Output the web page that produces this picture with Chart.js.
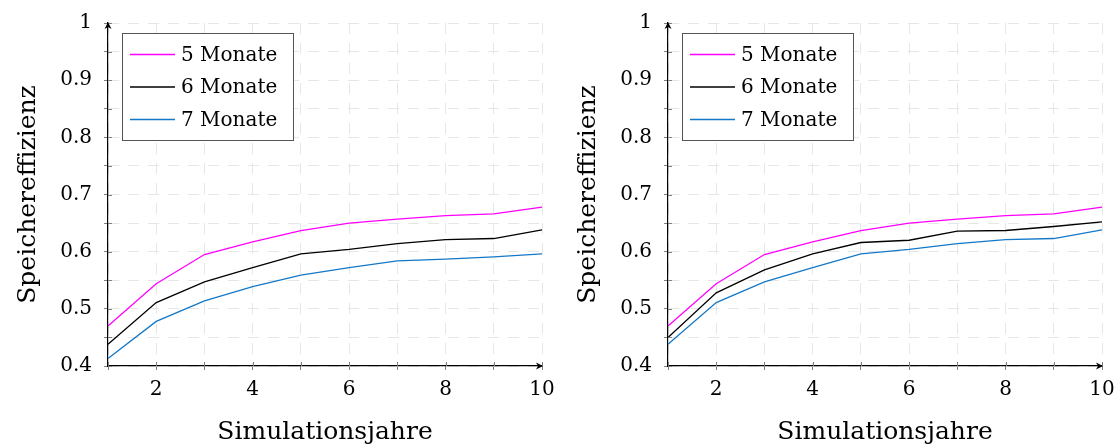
<!DOCTYPE html>
<html>
<head>
<meta charset="utf-8">
<script src="https://cdn.jsdelivr.net/npm/chart.js@4.4.0/dist/chart.umd.min.js"></script>
<style>
  body { margin: 0; background: #fff; }
  #wrap { position: relative; width: 1119px; height: 447px; }
  canvas { position: absolute; top: 0; }
</style>
</head>
<body>
<div id="wrap">
  <canvas id="left" width="560" height="447" style="left:0"></canvas>
  <canvas id="right" width="559" height="447" style="left:560px"></canvas>
</div>
<script>
// Simulationsjahre
var years = [1, 2, 3, 4, 5, 6, 7, 8, 9, 10];
var seriesLabels = ['5 Monate', '6 Monate', '7 Monate'];
var seriesColors = ['#ff00ff', '#000000', '#1478c8'];

// linke Grafik
var left5 = [0.470, 0.544, 0.595, 0.617, 0.637, 0.650, 0.657, 0.663, 0.666, 0.678];
var left6 = [0.438, 0.511, 0.547, 0.572, 0.596, 0.604, 0.614, 0.621, 0.623, 0.638];
var left7 = [0.413, 0.478, 0.514, 0.539, 0.559, 0.572, 0.584, 0.587, 0.591, 0.596];

// rechte Grafik
var right5 = [0.470, 0.544, 0.595, 0.617, 0.637, 0.650, 0.657, 0.663, 0.666, 0.678];
var right6 = [0.450, 0.528, 0.568, 0.596, 0.616, 0.620, 0.636, 0.637, 0.644, 0.652];
var right7 = [0.438, 0.511, 0.547, 0.572, 0.596, 0.604, 0.614, 0.621, 0.623, 0.638];

var yMin = 0.4, yMax = 1, yStep = 0.05;
var xTitle = 'Simulationsjahre';
var yTitle = 'Speichereffizienz';

var FONT = "'DejaVu Serif', serif";
var gridColor = '#e6e6e6';
var tickColor = '#808080';

// Legende im Diagramm + Achsenpfeile
var boxLegend = {
  id: 'boxLegend',
  afterDraw: function (chart) {
    var ctx = chart.ctx;
    var area = chart.chartArea;
    var xs = chart.scales.x, ys = chart.scales.y;

    // kurze Striche innen an den Achsen
    ctx.save();
    ctx.strokeStyle = tickColor;
    ctx.lineWidth = 1;
    ys.ticks.forEach(function (t) {
      var py = Math.round(ys.getPixelForValue(t.value)) + 0.5;
      ctx.beginPath(); ctx.moveTo(area.left, py); ctx.lineTo(area.left + 4, py); ctx.stroke();
    });
    xs.ticks.forEach(function (t, i) {
      var px = Math.round(xs.getPixelForTick(i)) + 0.5;
      ctx.beginPath(); ctx.moveTo(px, area.bottom); ctx.lineTo(px, area.bottom - 4); ctx.stroke();
    });
    ctx.restore();

    // Pfeile
    ctx.save();
    ctx.fillStyle = '#000';
    var ax = area.left, ay = area.top - 1;
    ctx.beginPath();
    ctx.moveTo(ax, ay);
    ctx.lineTo(ax - 3.5, ay + 7);
    ctx.lineTo(ax, ay + 5);
    ctx.lineTo(ax + 3.5, ay + 7);
    ctx.closePath();
    ctx.fill();
    var bx = area.right + 1, by = area.bottom;
    ctx.beginPath();
    ctx.moveTo(bx, by);
    ctx.lineTo(bx - 7, by - 3.5);
    ctx.lineTo(bx - 5, by);
    ctx.lineTo(bx - 7, by + 3.5);
    ctx.closePath();
    ctx.fill();
    ctx.restore();

    // Legende
    var lx = area.left + 14, ly = area.top + 10, lw = 171, lh = 107;
    ctx.save();
    ctx.fillStyle = '#fff';
    ctx.fillRect(lx, ly, lw, lh);
    ctx.strokeStyle = '#555';
    ctx.lineWidth = 1;
    ctx.strokeRect(lx + 0.5, ly + 0.5, lw, lh);
    ctx.font = '20px ' + FONT;
    ctx.textBaseline = 'middle';
    ctx.fillStyle = '#000';
    chart.data.datasets.forEach(function (ds, i) {
      var ry = ly + 21.5 + i * 32.5;
      ctx.strokeStyle = ds.borderColor;
      ctx.lineWidth = 1.3;
      ctx.beginPath(); ctx.moveTo(lx + 8, ry); ctx.lineTo(lx + 53, ry); ctx.stroke();
      ctx.fillText(ds.label, lx + 59, ry + 1);
    });
    ctx.restore();
  }
};

function makeChart(id, s5, s6, s7, width) {
  var vals = [s5, s6, s7];
  var ctx = document.getElementById(id).getContext('2d');
  return new Chart(ctx, {
    type: 'line',
    data: {
      labels: years,
      datasets: vals.map(function (v, i) {
        return {
          label: seriesLabels[i],
          data: v,
          borderColor: seriesColors[i],
          backgroundColor: seriesColors[i],
          borderWidth: 1.3,
          pointRadius: 0,
          tension: 0,
          fill: false
        };
      })
    },
    options: {
      responsive: false,
      animation: false,
      layout: { padding: { left: 0, right: width - 542, top: 23, bottom: 0 } },
      plugins: { legend: { display: false }, tooltip: { enabled: false } },
      scales: {
        x: {
          type: 'category',
          offset: false,
          afterFit: function (s) { s.height = 81; s.paddingLeft = 0; s.paddingRight = 0; },
          grid: { color: gridColor, tickColor: tickColor, tickLength: 4, lineWidth: 1 },
          border: { color: '#000', width: 1.2, dash: [11, 9] },
          ticks: {
            color: '#000',
            padding: 8,
            maxRotation: 0,
            autoSkip: false,
            font: { family: FONT, size: 20 },
            callback: function (v, i) { return years[i] % 2 === 0 ? String(years[i]) : ''; }
          },
          title: {
            display: true,
            text: xTitle,
            color: '#000',
            font: { family: FONT, size: 25, lineHeight: 1.2 },
            padding: { top: 0, bottom: 0 }
          }
        },
        y: {
          min: yMin,
          max: yMax,
          afterFit: function (s) { s.width = 108; s.paddingTop = 0; s.paddingBottom = 0; },
          grid: { color: gridColor, tickColor: tickColor, tickLength: 4, lineWidth: 1 },
          border: { color: '#000', width: 1.2, dash: [11, 9] },
          ticks: {
            stepSize: yStep,
            color: '#000',
            padding: 12,
            font: { family: FONT, size: 20 },
            callback: function (v) {
              var r = Math.round(v * 100);
              if (r % 10 !== 0) return '';
              return String(r / 100);
            }
          },
          title: {
            display: true,
            text: yTitle,
            color: '#000',
            font: { family: FONT, size: 25, lineHeight: 1.2 },
            padding: { top: 13, bottom: 0 }
          }
        }
      }
    },
    plugins: [boxLegend]
  });
}

makeChart('left', left5, left6, left7, 560);
makeChart('right', right5, right6, right7, 559);
</script>
</body>
</html>
